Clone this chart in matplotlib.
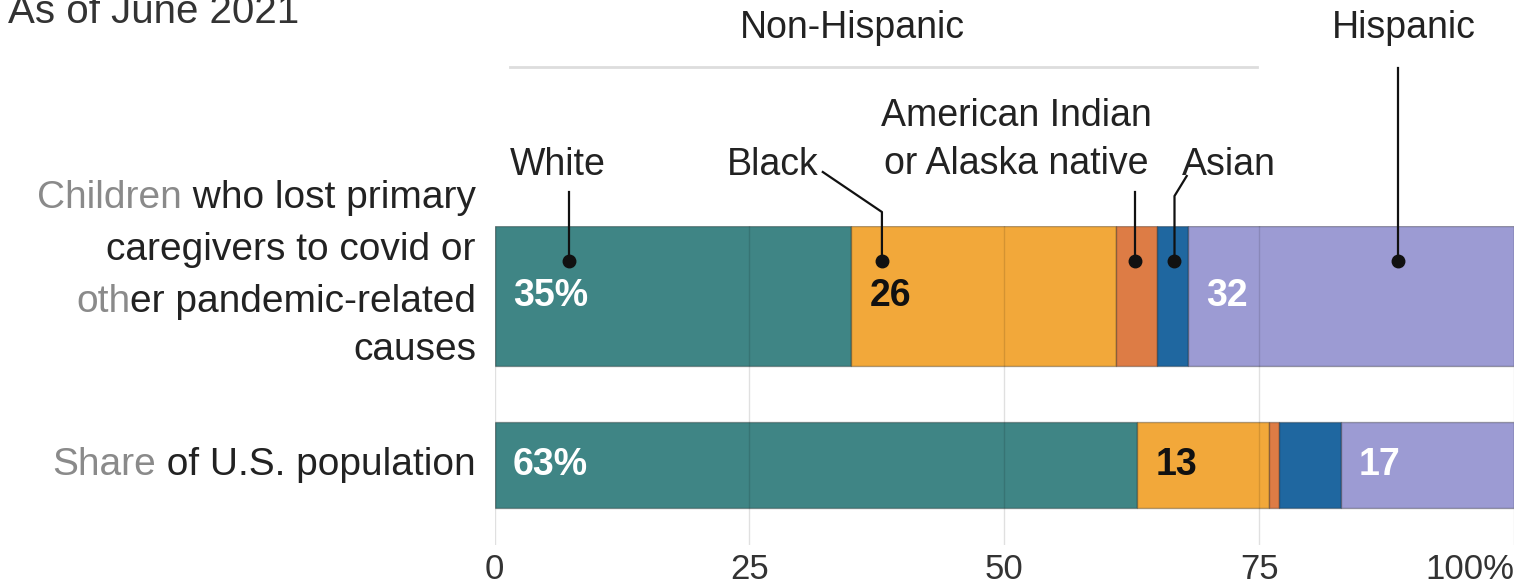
import matplotlib
matplotlib.use("Agg")
import matplotlib.pyplot as plt
import matplotlib.transforms as mtransforms

plt.rcParams['font.family'] = ['Liberation Sans', 'DejaVu Sans']

# data
groups = ["White", "Black", "American Indian\nor Alaska native", "Asian", "Hispanic"]
children = [35, 26, 4, 3, 32]
population = [63, 13, 1, 6, 17]
ticks = [0, 25, 50, 75, 100]
tick_labels = ["0", "25", "50", "75", "100%"]

colors = ["#3f8585", "#f2a83a", "#dd7c45", "#1f67a0", "#9c9bd3"]
value_colors = ["white", "#111111", None, None, "white"]

fig = plt.figure(figsize=(15.17, 5.87), dpi=100)
ax = fig.add_axes([0.326, 0.0716, 0.672, 0.5434])

ypos = [1, 0]
heights = [0.83, 0.51]
for i, row in enumerate([children, population]):
    left = 0
    for j, val in enumerate(row):
        ax.barh(ypos[i], val, left=left, height=heights[i], color=colors[j],
                edgecolor=(0, 0, 0, 0.3), lw=1, zorder=2)
        if value_colors[j] is not None:
            txt = str(val) + ("%" if j == 0 else "")
            ax.text(left + 1.8, ypos[i], txt, color=value_colors[j], fontsize=27,
                    fontweight="bold", ha="left", va="center", zorder=4)
        left += val

ax.set_xlim(0, 100)
ax.set_ylim(-0.473, 1.415)
ax.set_xticks(ticks)
ax.set_xticklabels(tick_labels)
ax.get_xticklabels()[-1].set_ha("right")
ax.set_yticks([])
ax.grid(axis="x", color="#000000", alpha=0.12, lw=1)
ax.set_axisbelow(False)
for s in ax.spines.values():
    s.set_visible(False)
ax.tick_params(axis="x", length=0, pad=6, labelsize=25, labelcolor="#333333")

# helper: x in data, y in figure pixels from top
trans = mtransforms.blended_transform_factory(ax.transData, fig.transFigure)
def fy(px):
    return 1 - px / 587.0

# group labels and callouts
label_x = [6.2, 27.3, 51.2, 72.0, 89.2]
label_y = [165, 165, 140, 165, 28]
callouts = [
    [(7.3, 192), (7.3, 261)],
    [(32.2, 172), (38.0, 212), (38.0, 261)],
    [(62.8, 192), (62.8, 261)],
    [(67.9, 176), (66.7, 196), (66.7, 261)],
    [(88.6, 68), (88.6, 261)],
]
for name, lx, ly, pts in zip(groups, label_x, label_y, callouts):
    ax.text(lx, fy(ly), name, transform=trans, ha="center", va="center",
            fontsize=27, color="#222222", linespacing=1.4)
    xs = [p[0] for p in pts]
    ys = [fy(p[1]) for p in pts]
    ax.plot(xs, ys, color="#111111", lw=1.6, transform=trans, clip_on=False, zorder=5)
    ax.plot(xs[-1], ys[-1], "o", color="#111111", ms=9, transform=trans,
            clip_on=False, zorder=5)

ax.text(35.1, fy(28), "Non-Hispanic", transform=trans, ha="center", va="center",
        fontsize=27, color="#222222")
ax.plot([1.5, 74.8], [fy(67), fy(67)], color="#dddddd", lw=2, transform=trans,
        clip_on=False)

# row labels (first word of some lines faded, as in the source)
row_lines = [
    ("Children", " who lost primary", 198),
    ("", "caregivers to covid or", 250),
    ("oth", "er pandemic-related", 302),
    ("", "causes", 350),
    ("Share", " of U.S. population", 465),
]
for faded, dark, py in row_lines:
    t = fig.text(476 / 1517, fy(py), dark, ha="right", va="center", fontsize=28,
                 color="#222222")
    if faded:
        ax.annotate(faded, xy=(0, 0.5), xycoords=t, ha="right", va="center",
                    fontsize=28, color="#8a8a8a", annotation_clip=False)

fig.text(8 / 1517, fy(23), "As of June 2021", ha="left", va="baseline",
         fontsize=29, color="#333333")

fig.savefig("out.png", dpi=100)
